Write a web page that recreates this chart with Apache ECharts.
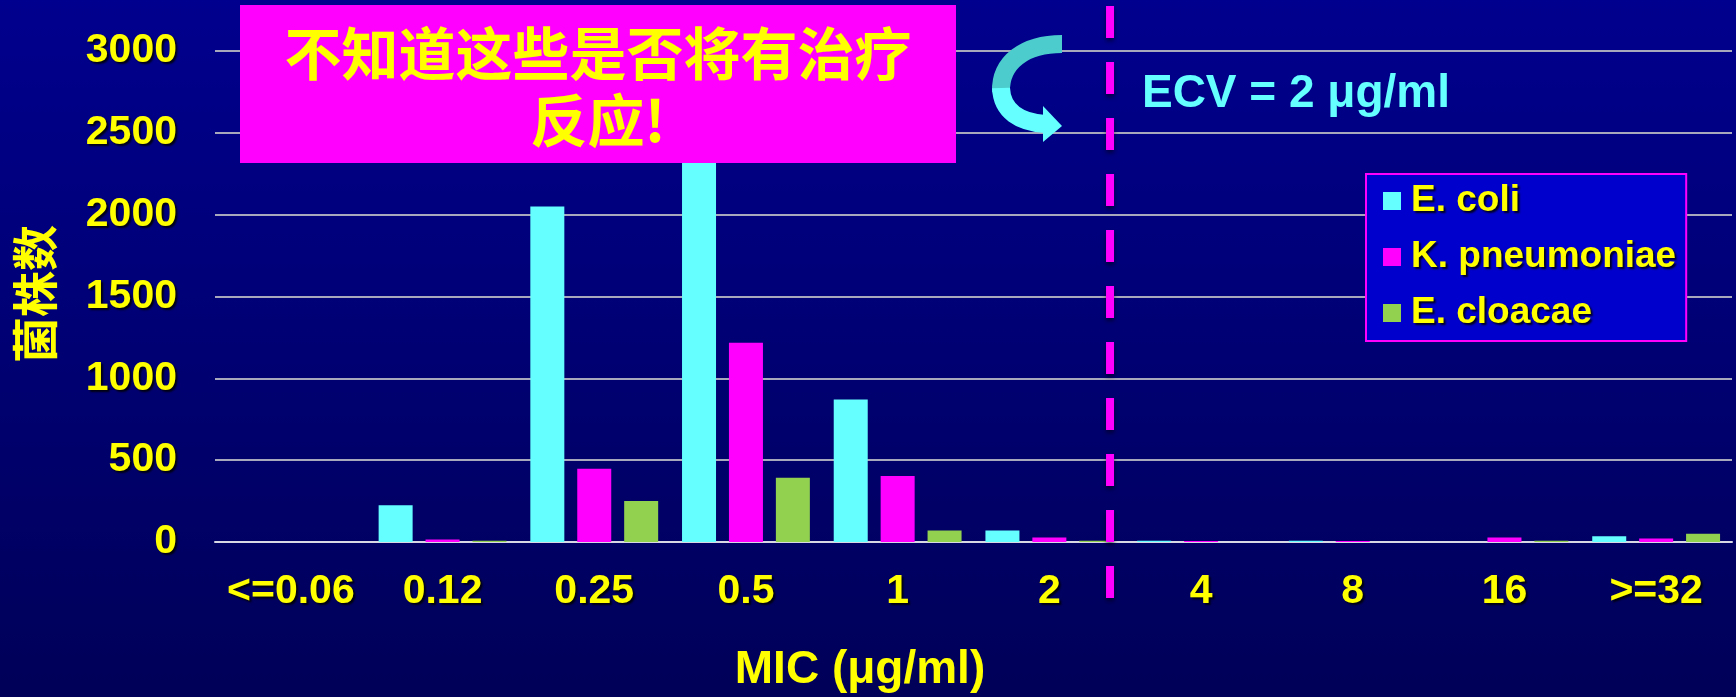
<!DOCTYPE html>
<html>
<head>
<meta charset="utf-8">
<script src="https://cdn.jsdelivr.net/npm/echarts@6/dist/echarts.min.js"></script>
<style>
  html, body { margin: 0; padding: 0; background: #000070; }
  #chart { width: 1736px; height: 697px; }
</style>
</head>
<body>
<div id="chart"></div>
<script>
// MIC distribution by organism
const categories = ['<=0.06', '0.12', '0.25', '0.5', '1', '2', '4', '8', '16', '>=32'];
const seriesNames = ['E. coli', 'K. pneumoniae', 'E. cloacae'];
const eColi = [0, 224, 2050, 2900, 871, 71, 8, 8, 0, 35];
const kPneumoniae = [0, 16, 447, 1218, 404, 28, 6, 6, 28, 22];
const eCloacae = [0, 8, 251, 392, 71, 8, 0, 0, 8, 51];
const yMin = 0, yMax = 3000, yStep = 500;

// Cut-off line sits between the '2' and '4' columns
const ecvFrom = 5, ecvFraction = 0.4;
const ecvText = 'ECV = 2 μg/ml';
const calloutLines = ['不知道这些是否将有治疗', '反应!'];
const yTitle = '菌株数';
const xTitle = 'MIC (μg/ml)';

const YELLOW = '#FFFF00';
const LATIN = '"Liberation Sans", Arial, sans-serif';
const CJK = '"Noto Sans CJK SC", "Liberation Sans", sans-serif';
const shadow = { textShadowColor: 'rgba(0,0,0,0.85)', textShadowBlur: 2, textShadowOffsetX: 2, textShadowOffsetY: 2 };
const gShadow = { shadowColor: 'rgba(0,0,0,0.85)', shadowBlur: 2, shadowOffsetX: 2, shadowOffsetY: 2 };

const colors = ['#66FFFF', '#FF00FF', '#92D050'];
const values = [eColi, kPneumoniae, eCloacae];

const chart = echarts.init(document.getElementById('chart'), null, { renderer: 'canvas' });

const option = {
  animation: false,
  backgroundColor: {
    type: 'linear', x: 0, y: 0, x2: 0, y2: 1,
    colorStops: [{ offset: 0, color: '#00008E' }, { offset: 1, color: '#000058' }]
  },
  grid: { left: 215, right: 4, top: 51, bottom: 155 },
  legend: {
    data: seriesNames,
    orient: 'vertical',
    left: 1366, top: 174,
    icon: 'rect', itemWidth: 18, itemHeight: 18, itemGap: 16,
    padding: [7, 10, 8, 17],
    backgroundColor: '#0000CC',
    borderColor: '#FF00FF', borderWidth: 2,
    textStyle: Object.assign({ color: YELLOW, fontSize: 37, fontWeight: 'bold', fontFamily: LATIN, lineHeight: 40, padding: [0, 0, 0, 5] }, shadow)
  },
  xAxis: {
    type: 'category',
    data: categories,
    axisLine: { lineStyle: { color: '#D8D8E4', width: 2 } },
    axisTick: { show: false },
    axisLabel: Object.assign({ color: YELLOW, fontSize: 41, fontWeight: 'bold', fontFamily: LATIN, margin: 30, lineHeight: 40, interval: 0 }, shadow)
  },
  yAxis: {
    type: 'value',
    min: yMin, max: yMax, interval: yStep,
    axisLine: { show: false },
    axisTick: { show: false },
    splitLine: { lineStyle: { color: '#A8A8BC', width: 2 } },
    axisLabel: Object.assign({ color: YELLOW, fontSize: 41, fontWeight: 'bold', fontFamily: LATIN, margin: 38, formatter: v => String(v) }, shadow)
  },
  series: seriesNames.map((name, i) => ({
    name: name,
    type: 'bar',
    data: values[i],
    barWidth: 34,
    barGap: '38%',
    itemStyle: { color: colors[i] }
  }))
};

chart.setOption(option);

// Overlay: callout box, curved arrow, cut-off line and titles
const x5 = chart.convertToPixel({ xAxisIndex: 0 }, ecvFrom);
const x6 = chart.convertToPixel({ xAxisIndex: 0 }, ecvFrom + 1);
const ecvX = x5 + (x6 - x5) * ecvFraction;

function label(text, x, y, font, fill, extra) {
  return Object.assign({
    type: 'text', z: 61,
    style: Object.assign({ text: text, x: x, y: y, textAlign: 'center', textVerticalAlign: 'middle', fill: fill, font: font }, gShadow)
  }, extra || {});
}

chart.setOption({
  graphic: [
    {
      type: 'line', z: 50,
      shape: { x1: ecvX, y1: 6, x2: ecvX, y2: 598 },
      style: { stroke: '#FF00FF', lineWidth: 8, lineDash: [32, 24], shadowColor: 'rgba(0,0,0,0.5)', shadowBlur: 4, shadowOffsetY: 3 }
    },
    {
      type: 'rect', z: 60,
      shape: { x: 240, y: 5, width: 716, height: 158 },
      style: { fill: '#FF00FF' }
    },
    label(calloutLines[0], 598, 53, 'bold 57px ' + CJK, YELLOW),
    label(calloutLines[1], 598, 120, 'bold 57px ' + CJK, YELLOW),
    // curved arrow pointing at the cut-off
    {
      type: 'bezierCurve', z: 60,
      shape: { x1: 1062, y1: 44, cpx1: 1025, cpy1: 44, cpx2: 1000, cpy2: 62, x2: 1001, y2: 92 },
      style: { fill: null, stroke: '#4CCCCC', lineWidth: 18, lineCap: 'butt' }
    },
    {
      type: 'bezierCurve', z: 60,
      shape: { x1: 1001, y1: 88, cpx1: 1002, cpy1: 112, cpx2: 1020, cpy2: 122, x2: 1045, y2: 124 },
      style: { fill: null, stroke: '#66FFFF', lineWidth: 18, lineCap: 'butt' }
    },
    {
      type: 'polygon', z: 60,
      shape: { points: [[1043, 106], [1062, 126], [1043, 142]] },
      style: { fill: '#66FFFF' }
    },
    label(ecvText, 1296, 94, 'bold 46px ' + LATIN, '#66FFFF'),
    label(xTitle, 860, 670, 'bold 46px ' + LATIN, YELLOW),
    {
      type: 'group', z: 61,
      x: 35, y: 294, rotation: Math.PI / 2,
      children: [label(yTitle, 0, 0, 'bold 46px ' + CJK, YELLOW)]
    }
  ]
});
</script>
</body>
</html>
